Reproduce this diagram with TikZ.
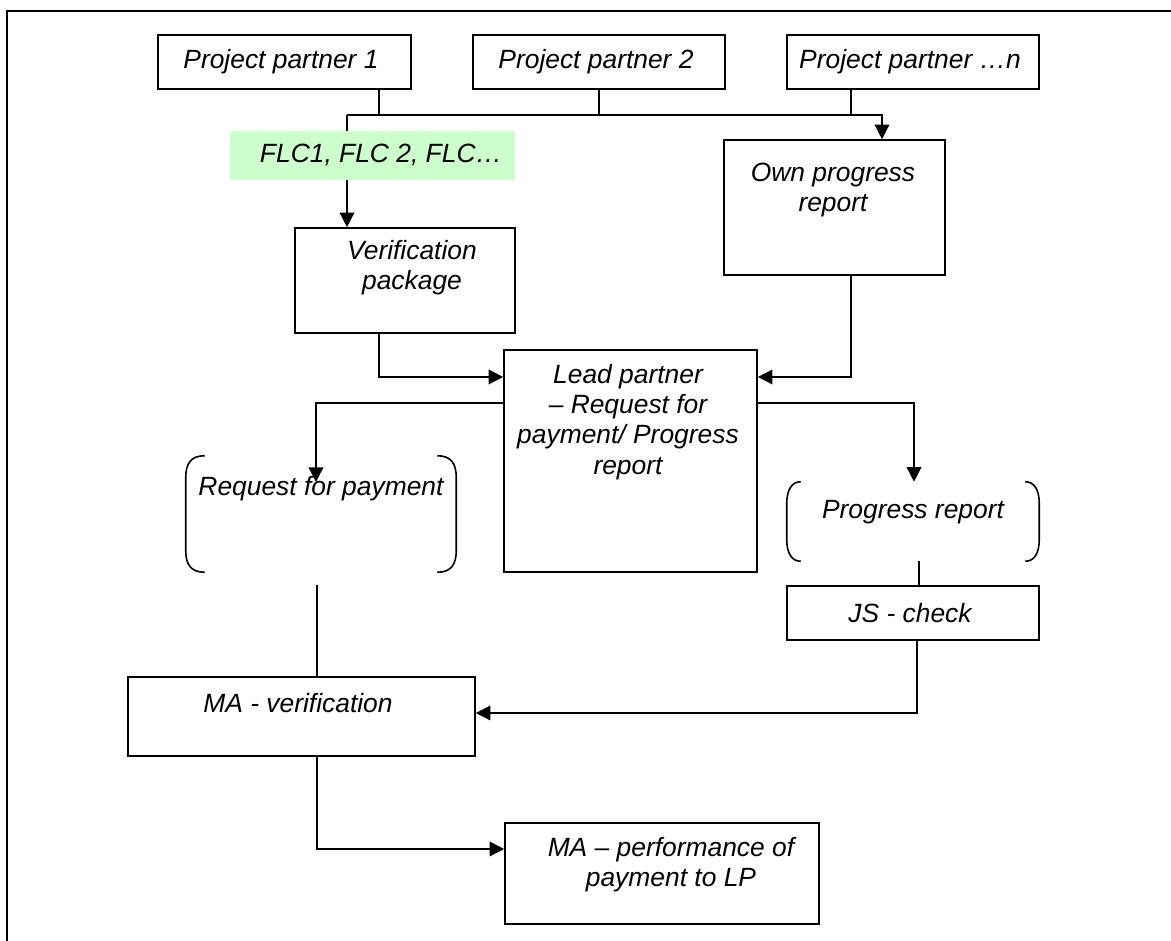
\documentclass[tikz,border=0pt]{standalone}
\usepackage{fontspec}
\setmainfont{Liberation Sans}
\usetikzlibrary{arrows.meta,fit,calc}
\definecolor{flcgreen}{RGB}{204,255,204}
\newcommand\drawbrackets[2]{%
  \draw[bracketline] ($(#1.north west)+(#2,0)$) .. controls ($(#1.north west)+(5,0)$) and ($(#1.north west)+(0,8)$) .. ($(#1.north west)+(0,22)$)
     -- ($(#1.south west)+(0,-22)$) .. controls ($(#1.south west)+(0,-8)$) and ($(#1.south west)+(5,0)$) .. ($(#1.south west)+(#2,0)$);
  \draw[bracketline] ($(#1.north east)+(-#2,0)$) .. controls ($(#1.north east)+(-5,0)$) and ($(#1.north east)+(0,8)$) .. ($(#1.north east)+(0,22)$)
     -- ($(#1.south east)+(0,-22)$) .. controls ($(#1.south east)+(0,-8)$) and ($(#1.south east)+(-5,0)$) .. ($(#1.south east)+(-#2,0)$);
}
\begin{document}
\begin{tikzpicture}[x=0.75pt,y=-0.75pt,
  boxnode/.style={draw, line width=1.2pt, inner sep=0pt},
  ghost/.style={inner sep=0pt},
  lbl/.style={font=\fontsize{19.8}{22.6}\selectfont\itshape, align=center, inner sep=0pt},
  conn/.style={line width=1.1pt},
  arr/.style={conn, -{Triangle[width=11pt,length=11pt]}},
  bracketline/.style={line width=1.2pt}]
\useasboundingbox (0,0) rectangle (1171,941);
% frame
\draw[line width=1.7pt] (7,941) -- (7,11) -- (1171,11);

% boxes
\node[boxnode, fit={(158,35) (411,89)}] (pp1) {};
\node[boxnode, fit={(473,35) (725,89)}] (pp2) {};
\node[boxnode, fit={(787,35) (1039,89)}] (ppn) {};
\node[boxnode, fit={(724,140) (945,275)}] (opr) {};
\node[boxnode, fit={(295,228) (515,333)}] (ver) {};
\node[boxnode, fit={(504,350) (757,572)}] (lead) {};
\node[ghost, fit={(186,456) (456,572)}] (rfp) {};
\node[ghost, fit={(787,482) (1039,561)}] (pr) {};
\node[boxnode, fit={(787,586) (1039,640)}] (js) {};
\node[boxnode, fit={(128,677) (475,756)}] (mav) {};
\node[boxnode, fit={(505,823) (819,924)}] (map) {};

\drawbrackets{rfp}{19}
\drawbrackets{pr}{14}

% helper coordinates
\coordinate (s1) at (379,115);
\coordinate (s2) at (599,115);
\coordinate (s3) at (851,115);
\coordinate (busL) at (347,115);
\coordinate (busR) at (882,115);
\coordinate (j1) at (379,377);
\coordinate (j2) at (851,377);
\coordinate (j3) at (316,403);
\coordinate (t3) at (316,482);
\coordinate (j4) at (914,403);
\coordinate (c8) at (919,0);
\coordinate (c9) at (317,585);
\coordinate (c10) at (917,713);
\coordinate (c11) at (317,849);

% connectors
\draw[conn] (s1 |- pp1.south) -- (s1);
\draw[conn] (s2 |- pp2.south) -- (s2);
\draw[conn] (s3 |- ppn.south) -- (s3);
\draw[arr] (busL) -- (busR) -- (busR |- opr.north);
\draw[arr] (busL) -- (busL |- ver.north);
\draw[arr] (ver.south -| j1) |- (lead.west |- j1);
\draw[arr] (opr.south -| j2) |- (lead.east |- j2);
\draw[arr] (lead.west |- j3) -| (t3);
\draw[arr] (lead.east |- j4) -| (pr.north -| j4);
\draw[conn] (pr.south -| c8) -- (js.north -| c8);
\draw[conn] (c9) -- (mav.north -| c9);
\draw[arr] (js.south -| c10) |- (mav.east |- c10);
\draw[arr] (mav.south -| c11) |- (map.west |- c11);

% green FLC label (covers the line)
\node[fill=flcgreen, inner sep=0pt, fit={(230,131) (515,180)}] (flc) {};

% texts
\node[lbl] (tpp1) at (281,62) {Project partner 1};
\node[lbl] (tpp2) at (596,62) {Project partner 2};
\node[lbl] (tppn) at (910,62) {Project partner …n};
\node[lbl] (tflc) at (381,155) {FLC1, FLC 2, FLC…};
\node[lbl] (topr) at (833,190) {Own progress\\report};
\node[lbl] (tver) at (412,268) {Verification\\package};
\node[lbl] (tlead) at (628,422) {Lead partner\\– Request for\\payment/ Progress\\report};
\node[lbl] (trfp) at (321,489) {Request for payment};
\node[lbl] (tpr) at (913,512) {Progress report};
\node[lbl] (tjs) at (910,613) {JS - check};
\node[lbl] (tmav) at (298,703) {MA - verification};
\node[lbl] (tmap) at (671,865) {MA – performance of\\payment to LP};
\end{tikzpicture}
\end{document}
